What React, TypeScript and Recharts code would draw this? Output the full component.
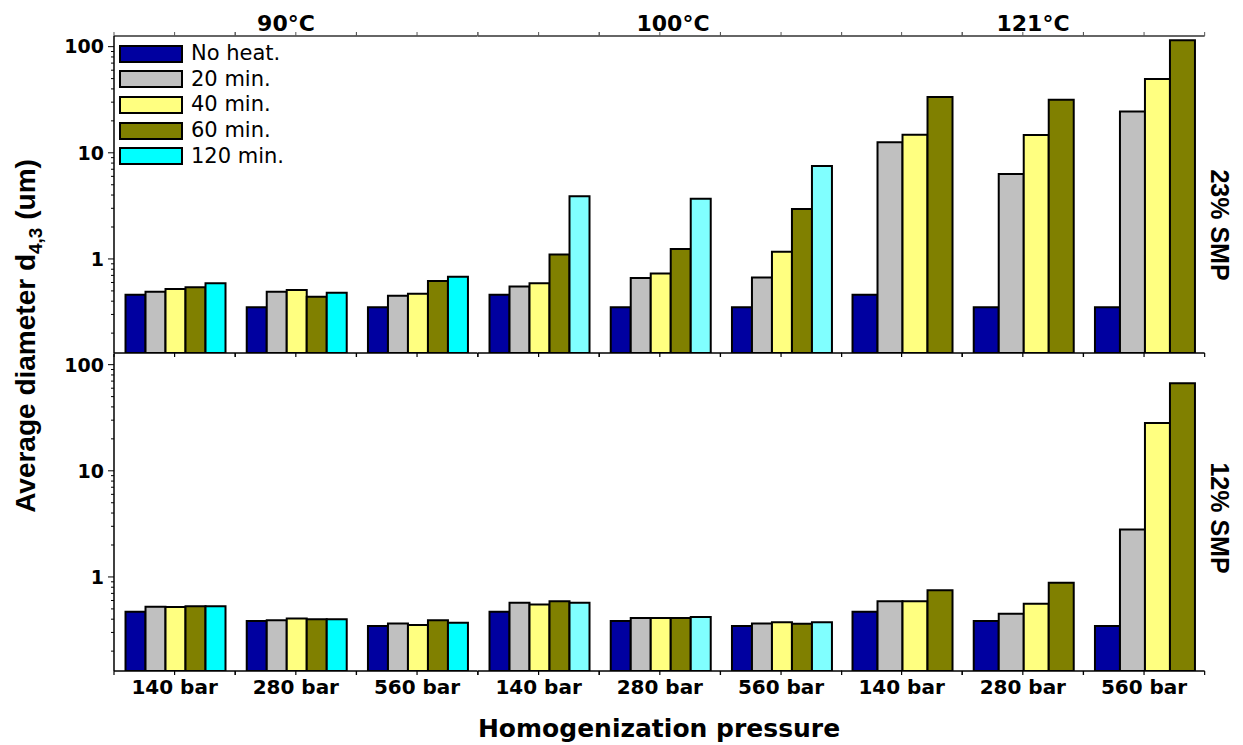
import { Bar, BarChart, Legend, XAxis, YAxis } from 'recharts'

// homogenization pressures (x categories)
const pressures = ['140 bar', '280 bar', '560 bar']
const temperatures = ['90', '100', '121']
const concentrations = ['23% SMP', '12% SMP']

const seriesNames = ['No heat.', '20 min.', '40 min.', '60 min.', '120 min.']
const seriesColors = ['#0000A0', '#C0C0C0', '#FFFF80', '#808000', '#00FFFF']
const paleCyan = '#80FFFF'

// d4,3 in um, one row per pressure, one column per heating time
const smp23At90 = [
  [0.46, 0.49, 0.52, 0.54, 0.59],
  [0.35, 0.49, 0.51, 0.44, 0.48],
  [0.35, 0.45, 0.47, 0.62, 0.68],
]
const smp23At100 = [
  [0.46, 0.55, 0.59, 1.1, 3.9],
  [0.35, 0.66, 0.73, 1.24, 3.7],
  [0.35, 0.67, 1.17, 2.96, 7.5],
]
const smp23At121 = [
  [0.46, 12.6, 14.8, 33.5],
  [0.35, 6.3, 14.7, 31.6],
  [0.35, 24.5, 49.5, 115],
]
const smp12At90 = [
  [0.47, 0.525, 0.52, 0.53, 0.53],
  [0.385, 0.39, 0.405, 0.4, 0.4],
  [0.345, 0.365, 0.352, 0.39, 0.37],
]
const smp12At100 = [
  [0.47, 0.57, 0.55, 0.59, 0.57],
  [0.385, 0.41, 0.41, 0.41, 0.42],
  [0.345, 0.365, 0.375, 0.362, 0.374],
]
const smp12At121 = [
  [0.47, 0.59, 0.59, 0.75],
  [0.385, 0.45, 0.56, 0.88],
  [0.345, 2.8, 28.2, 66.7],
]

const majorTicks = [1, 10, 100]
const minorTicks = [0.2, 0.3, 0.4, 0.5, 0.6, 0.7, 0.8, 0.9, 2, 3, 4, 5, 6, 7, 8, 9, 20, 30, 40, 50, 60, 70, 80, 90]
const yDomain = [0.13, 126]

const PLOT_LEFT = 114
const PANEL_W = 363.67
const PANEL_H = 317
const ROW_TOP = [36, 354]
const TOP_AXIS_H = 8
const BOTTOM_AXIS_H = [10, 40]
const BAND = PANEL_W / 3
const PAD_R = 3

const boldFont = '"DejaVu Sans", sans-serif'
const arialFont = '"Liberation Sans", Arial, sans-serif'

const leftTick = (props: any) => {
  const { x, y, payload } = props
  const major = majorTicks.includes(payload.value)
  return (
    <g>
      <line x1={x} x2={x - (major ? 6 : 3)} y1={y} y2={y} stroke="#000" strokeWidth={1} />
      {major && (
        <text x={x - 10} y={y} dy="0.36em" textAnchor="end" fontFamily={boldFont} fontWeight="bold" fontSize={19} fill="#000">
          {payload.value}
        </text>
      )}
    </g>
  )
}

const rightTick = (color: string) => (props: any) => {
  const { x, y, payload } = props
  const major = majorTicks.includes(payload.value)
  return <line x1={x} x2={x - (major ? 5 : 3)} y1={y} y2={y} stroke={color} strokeWidth={1} />
}

const bottomTick = (showLabel: boolean) => (props: any) => {
  const { x, y, payload } = props
  return (
    <g>
      <line x1={x} x2={x} y1={y} y2={y + 4} stroke="#000" strokeWidth={1.2} />
      <line x1={x - BAND / 2} x2={x - BAND / 2} y1={y} y2={y + 4} stroke="#000" strokeWidth={1.2} />
      <line x1={x + BAND / 2} x2={x + BAND / 2} y1={y} y2={y + 4} stroke="#000" strokeWidth={1.2} />
      {showLabel && (
        <text x={x} y={y + 23} textAnchor="middle" fontFamily={boldFont} fontWeight="bold" fontSize={20} fill="#000">
          {payload.value}
        </text>
      )}
    </g>
  )
}

const topTick = (props: any) => {
  const { x, y } = props
  return (
    <g stroke="#555" strokeWidth={1}>
      <line x1={x} x2={x} y1={y} y2={y - 4} />
      <line x1={x - BAND / 2} x2={x - BAND / 2} y1={y} y2={y - 4} />
      <line x1={x + BAND / 2} x2={x + BAND / 2} y1={y} y2={y - 4} />
    </g>
  )
}

const legendContent = ({ payload }: any) => {
  const items = [...(payload || [])].sort((a: any, b: any) => seriesNames.indexOf(a.value) - seriesNames.indexOf(b.value))
  return (
    <div>
      {items.map((item: any) => (
        <div key={item.value} style={{ display: 'flex', alignItems: 'center', height: 25.6 }}>
          <span
            style={{
              display: 'inline-block',
              width: 64,
              height: 18,
              background: item.color,
              border: '2px solid #000',
              boxSizing: 'border-box',
            }}
          />
          <span style={{ marginLeft: 8, fontFamily: boldFont, fontSize: 21, color: '#000', lineHeight: '21px' }}>{item.value}</span>
        </div>
      ))}
    </div>
  )
}

function Panel({ values, row, col, colors, showLegend = false }: any) {
  const data = pressures.map((p, i) => {
    const r: any = { pressure: p }
    values[i].forEach((v: number, k: number) => (r['s' + k] = v))
    return r
  })
  const first = col === 0
  const axisW = first ? PLOT_LEFT : 0
  const marginTop = row === 0 ? ROW_TOP[0] - TOP_AXIS_H : 0
  const left = first ? 0 : PLOT_LEFT + col * PANEL_W
  const top = row === 0 ? 0 : ROW_TOP[1]
  const width = axisW + PANEL_W + PAD_R
  const height = marginTop + (row === 0 ? TOP_AXIS_H : 0) + PANEL_H + BOTTOM_AXIS_H[row]
  const rightColor = col === 2 ? '#808080' : '#c8c8c8'

  return (
    <div style={{ position: 'absolute', left, top }}>
      <BarChart
        width={width}
        height={height}
        data={data}
        margin={{ top: marginTop, right: PAD_R, bottom: 0, left: 0 }}
        barCategoryGap="9.5%"
        barGap={0}
      >
        <XAxis
          dataKey="pressure"
          height={BOTTOM_AXIS_H[row]}
          axisLine={{ stroke: '#000', strokeWidth: 1.5 }}
          tickLine={false}
          tickSize={0}
          tickMargin={0}
          interval={0}
          tick={bottomTick(row === 1)}
        />
        {row === 0 && (
          <XAxis
            xAxisId="top"
            dataKey="pressure"
            orientation="top"
            height={TOP_AXIS_H}
            axisLine={{ stroke: '#666', strokeWidth: 2 }}
            tickLine={false}
            tickSize={0}
            tickMargin={0}
            interval={0}
            tick={topTick}
          />
        )}
        <YAxis
          yAxisId="l"
          scale="log"
          domain={yDomain}
          allowDataOverflow
          ticks={first ? [...minorTicks, ...majorTicks] : []}
          interval={0}
          width={axisW}
          axisLine={first ? { stroke: '#000', strokeWidth: 1.5 } : false}
          tickLine={false}
          tickSize={0}
          tickMargin={0}
          tick={first ? leftTick : false}
        />
        <YAxis
          yAxisId="r"
          orientation="right"
          scale="log"
          domain={yDomain}
          allowDataOverflow
          ticks={[...minorTicks, ...majorTicks]}
          interval={0}
          width={0}
          axisLine={{ stroke: rightColor, strokeWidth: 2 }}
          tickLine={false}
          tickSize={0}
          tickMargin={0}
          tick={rightTick(rightColor)}
        />
        {showLegend && (
          <Legend
            layout="vertical"
            align="center"
            verticalAlign="middle"
            wrapperStyle={{ left: 119, top: 41, width: 220, height: 'auto' }}
            content={legendContent}
          />
        )}
        {values[0].map((_: number, k: number) => (
          <Bar
            key={k}
            yAxisId="l"
            dataKey={'s' + k}
            name={seriesNames[k]}
            fill={colors[k]}
            stroke="#000"
            strokeWidth={2}
            isAnimationActive={false}
          />
        ))}
      </BarChart>
    </div>
  )
}

const titleX = [286, 673, 1033]
const sideY = [225, 518]

export default function App() {
  const palePalette = seriesColors.map((c, i) => (i === 4 ? paleCyan : c))
  return (
    <div style={{ position: 'absolute', left: 0, top: 0, width: 1243, height: 745, background: '#fff', overflow: 'hidden' }}>
      <Panel values={smp23At90} row={0} col={0} colors={seriesColors} showLegend />
      <Panel values={smp23At100} row={0} col={1} colors={palePalette} />
      <Panel values={smp23At121} row={0} col={2} colors={seriesColors} />
      <Panel values={smp12At90} row={1} col={0} colors={seriesColors} />
      <Panel values={smp12At100} row={1} col={1} colors={palePalette} />
      <Panel values={smp12At121} row={1} col={2} colors={seriesColors} />
      <svg width={1243} height={745} style={{ position: 'absolute', left: 0, top: 0, pointerEvents: 'none' }}>
        {temperatures.map((t, i) => (
          <text key={t} x={titleX[i]} y={31} textAnchor="middle" fontFamily={boldFont} fontWeight="bold" fontSize={22} fill="#000">
            {t}°C
          </text>
        ))}
        {concentrations.map((c, i) => (
          <text
            key={c}
            transform={`translate(1211, ${sideY[i]}) rotate(90)`}
            textAnchor="middle"
            fontFamily={arialFont}
            fontWeight="bold"
            fontSize={25}
            fill="#000"
          >
            {c}
          </text>
        ))}
        <text transform="translate(35, 336) rotate(-90)" textAnchor="middle" fontFamily={arialFont} fontWeight="bold" fontSize={28} fill="#000">
          Average diameter d
          <tspan fontSize={19} dy={7}>4,3</tspan>
          <tspan dy={-7}> (um)</tspan>
        </text>
        <text x={659} y={737} textAnchor="middle" fontFamily={boldFont} fontWeight="bold" fontSize={25} fill="#000">
          Homogenization pressure
        </text>
      </svg>
    </div>
  )
}
